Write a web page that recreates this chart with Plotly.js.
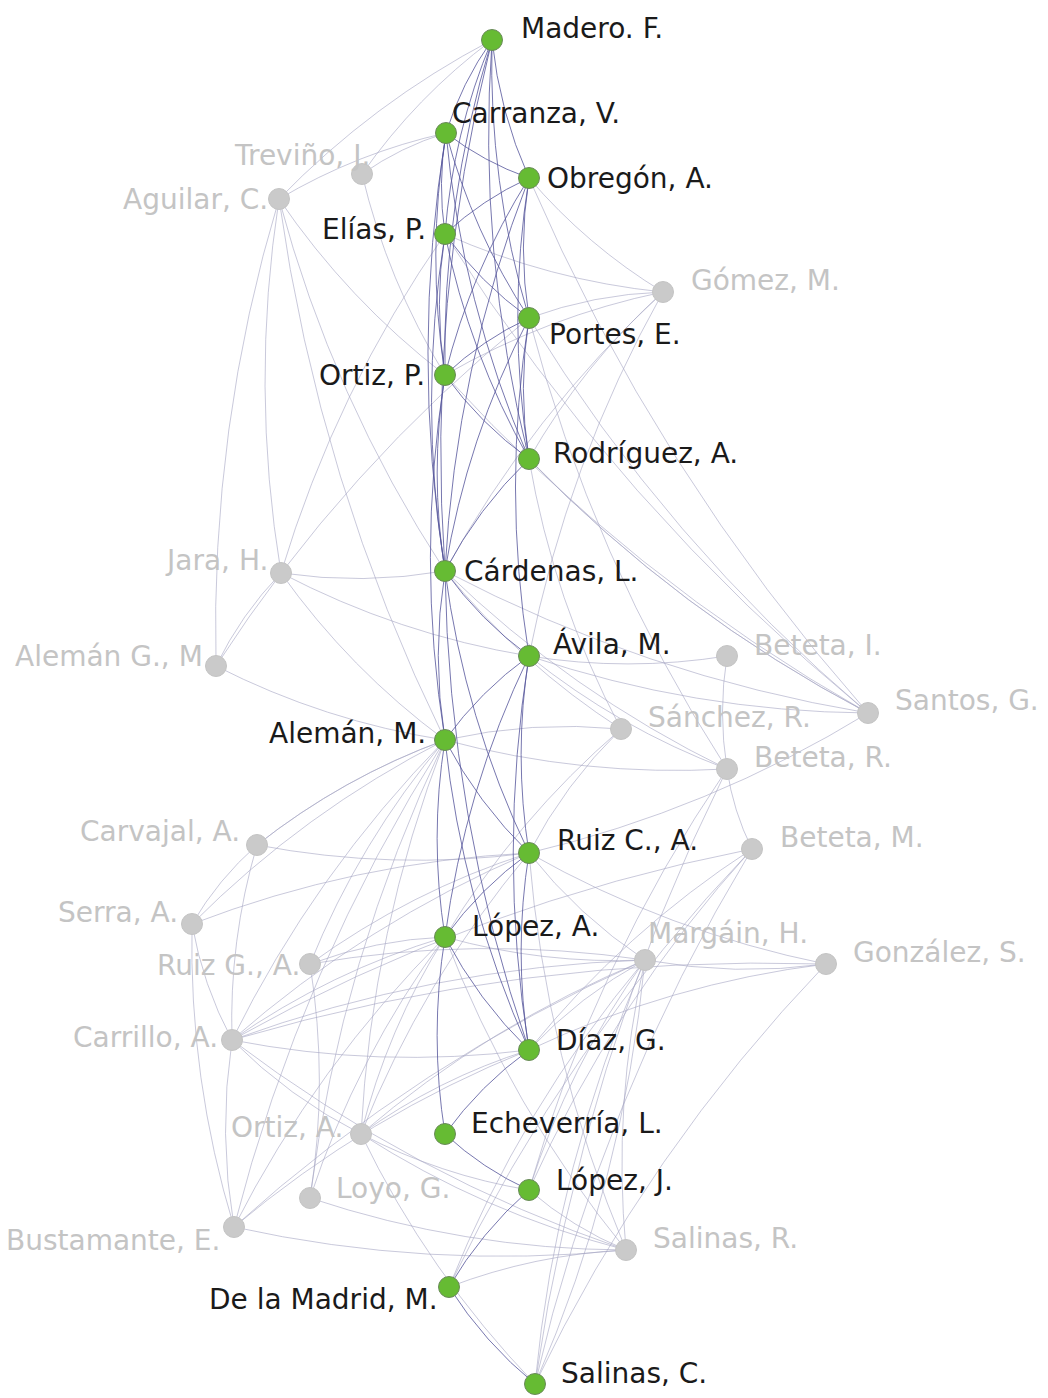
<!DOCTYPE html>
<html><head><meta charset="utf-8">
<script src="https://cdn.plot.ly/plotly-3.0.1.min.js"></script>
<style>html,body{margin:0;padding:0;background:#fff}</style>
</head><body><div id="chart" style="width:1048px;height:1398px"></div>
<script>
// ---- data ----
const names = ["Madero. F.","Carranza, V.","Treviño, J.","Aguilar, C.","Obregón, A.","Elías, P.","Gómez, M.","Portes, E.","Ortiz, P.","Rodríguez, A.",
"Jara, H.","Cárdenas, L.","Alemán G., M","Ávila, M.","Beteta, I.","Santos, G.","Sánchez, R.","Alemán, M.","Beteta, R.","Carvajal, A.",
"Ruiz C., A.","Beteta, M.","Serra, A.","López, A.","Ruiz G., A.","Margáin, H.","González, S.","Carrillo, A.","Díaz, G.","Echeverría, L.",
"Ortiz, A.","Loyo, G.","López, J.","Bustamante, E.","Salinas, R.","De la Madrid, M.","Salinas, C."];
const nodeX = [492,446,362,279,529,445,663,529,445,529, 281,445,216,529,727,868,621,445,727,257, 529,752,192,445,310,645,826,232,529,445, 361,310,529,234,626,449,535];
const nodeY = [40,133,174,199,178,234,292,318,375,459, 573,571,666,656,656,713,729,740,769,845, 853,849,924,937,964,960,964,1040,1050,1134, 1134,1198,1190,1227,1250,1287,1384];
const president = [1,1,0,0,1,1,0,1,1,1, 0,1,0,1,0,0,0,1,0,0, 1,0,0,1,0,0,0,0,1,1, 0,0,1,0,0,1,1];

const edgeFrom = [
"Madero. F.","Madero. F.","Madero. F.","Madero. F.","Madero. F.","Madero. F.","Madero. F.","Madero. F.","Madero. F.",
"Carranza, V.","Carranza, V.","Carranza, V.","Carranza, V.","Carranza, V.","Carranza, V.","Carranza, V.","Carranza, V.",
"Treviño, J.",
"Aguilar, C.","Aguilar, C.","Aguilar, C.","Aguilar, C.","Aguilar, C.",
"Obregón, A.","Obregón, A.","Obregón, A.","Obregón, A.","Obregón, A.","Obregón, A.","Obregón, A.",
"Elías, P.","Elías, P.","Elías, P.","Elías, P.","Elías, P.","Elías, P.","Elías, P.",
"Gómez, M.","Gómez, M.","Gómez, M.","Gómez, M.","Gómez, M.",
"Portes, E.","Portes, E.","Portes, E.","Portes, E.","Portes, E.","Portes, E.","Portes, E.",
"Ortiz, P.","Ortiz, P.","Ortiz, P.","Ortiz, P.",
"Rodríguez, A.","Rodríguez, A.","Rodríguez, A.","Rodríguez, A.",
"Jara, H.","Jara, H.","Jara, H.","Jara, H.",
"Cárdenas, L.","Cárdenas, L.","Cárdenas, L.","Cárdenas, L.","Cárdenas, L.","Cárdenas, L.","Cárdenas, L.",
"Alemán G., M",
"Ávila, M.","Ávila, M.","Ávila, M.","Ávila, M.","Ávila, M.","Ávila, M.","Ávila, M.",
"Beteta, I.","Beteta, R.","Beteta, R.","Beteta, R.",
"Sánchez, R.","Sánchez, R.","Sánchez, R.",
"Alemán, M.","Alemán, M.","Alemán, M.","Alemán, M.","Alemán, M.","Alemán, M.","Alemán, M.","Alemán, M.","Alemán, M.","Alemán, M.","Alemán, M.","Alemán, M.",
"Carvajal, A.","Carvajal, A.","Carvajal, A.",
"Ruiz C., A.","Ruiz C., A.","Ruiz C., A.","Ruiz C., A.","Ruiz C., A.","Ruiz C., A.","Ruiz C., A.","Ruiz C., A.","Ruiz C., A.","Ruiz C., A.",
"Beteta, M.","Beteta, M.","Beteta, M.","Beteta, M.","Beteta, M.",
"Serra, A.","Serra, A.",
"López, A.","López, A.","López, A.","López, A.","López, A.","López, A.","López, A.","López, A.","López, A.",
"Margáin, H.","Margáin, H.","Margáin, H.","Margáin, H.","Margáin, H.","Margáin, H.","Margáin, H.","Margáin, H.","Margáin, H.","Margáin, H.",
"González, S.","González, S.","González, S.",
"Carrillo, A.","Carrillo, A.","Carrillo, A.","Carrillo, A.",
"Díaz, G.","Díaz, G.","Díaz, G.",
"Echeverría, L.",
"Ortiz, A.","Ortiz, A.","Ortiz, A.",
"Loyo, G.","Loyo, G.",
"López, J.","López, J.",
"Bustamante, E.","Salinas, R.","De la Madrid, M.","Salinas, C."
];
const edgeTo = [
"Carranza, V.","Elías, P.","Ortiz, P.","Cárdenas, L.","Obregón, A.","Portes, E.","Rodríguez, A.","Aguilar, C.","Treviño, J.",
"Obregón, A.","Elías, P.","Ortiz, P.","Cárdenas, L.","Portes, E.","Rodríguez, A.","Treviño, J.","Aguilar, C.",
"Ortiz, P.",
"Alemán G., M","Jara, H.","Ortiz, P.","Cárdenas, L.","Alemán, M.",
"Elías, P.","Ortiz, P.","Cárdenas, L.","Portes, E.","Rodríguez, A.","Gómez, M.","Santos, G.",
"Ortiz, P.","Cárdenas, L.","Portes, E.","Rodríguez, A.","Gómez, M.","Santos, G.","Jara, H.",
"Portes, E.","Ortiz, P.","Cárdenas, L.","Ávila, M.","Rodríguez, A.",
"Ortiz, P.","Cárdenas, L.","Rodríguez, A.","Ávila, M.","Santos, G.","Alemán G., M","Beteta, R.",
"Cárdenas, L.","Rodríguez, A.","Santos, G.","Alemán, M.",
"Cárdenas, L.","Santos, G.","Santos, G.","Sánchez, R.",
"Cárdenas, L.","Ávila, M.","Alemán, M.","Alemán G., M",
"Ávila, M.","Alemán, M.","Ruiz C., A.","Santos, G.","Beteta, R.","Díaz, G.","Sánchez, R.",
"Alemán, M.",
"Beteta, I.","Santos, G.","Beteta, R.","Alemán, M.","Ruiz C., A.","Díaz, G.","López, A.",
"Beteta, R.","Beteta, M.","Salinas, C.","López, J.",
"Alemán, M.","Ruiz C., A.","López, A.",
"Ruiz C., A.","López, A.","Díaz, G.","Beteta, R.","Carvajal, A.","Serra, A.","Carrillo, A.","Ortiz, A.","Loyo, G.","Bustamante, E.","Carvajal, A.","Ruiz G., A.",
"Ruiz C., A.","Serra, A.","Carrillo, A.",
"Santos, G.","González, S.","Margáin, H.","López, A.","Díaz, G.","Serra, A.","Carrillo, A.","Ruiz G., A.","Ortiz, A.","Salinas, R.",
"López, J.","De la Madrid, M.","Salinas, C.","Díaz, G.","Carrillo, A.",
"Carrillo, A.","Bustamante, E.",
"Margáin, H.","Díaz, G.","Echeverría, L.","Carrillo, A.","Ortiz, A.","Bustamante, E.","Loyo, G.","Salinas, R.","Ruiz G., A.",
"González, S.","Carrillo, A.","Díaz, G.","Ortiz, A.","López, J.","De la Madrid, M.","Salinas, C.","Salinas, R.","Bustamante, E.","Ruiz G., A.",
"Salinas, C.","Díaz, G.","Carrillo, A.",
"Díaz, G.","Ortiz, A.","Salinas, R.","Bustamante, E.",
"Echeverría, L.","Ortiz, A.","Bustamante, E.",
"López, J.",
"Salinas, R.","López, J.","Salinas, C.",
"Salinas, R.","Ruiz G., A.",
"De la Madrid, M.","Salinas, R.",
"Salinas, R.","De la Madrid, M.","Salinas, C.","Margáin, H."
];

// ---- label styling (offsets in px) ----
const labelDx = [27,4,10,-9,16,-17,26,18,-18,22, -11,17,-11,22,25,25,25,-17,25,-15, 26,26,-12,25,-8,1,25,-12,25,24, -16,24,25,-12,25,-9,24];
const labelDy = [-12,-20,-19,0,0,-5,-12,16,0,-6, -13,0,-10,-12,-11,-13,-12,-7,-12,-14, -13,-12,-12,-11,1,-27,-12,-3,-10,-11, -7,-10,-10,13,-12,12,-11];
const labelAnchor = ["left","left","right","right","left","right","left","left","right","left",
"right","left","right","left","left","left","left","right","left","right",
"left","left","right","left","right","left","left","right","left","left",
"right","left","left","right","left","right","left"];

// ---- build ----
const idx = {}; names.forEach((n,i)=>idx[n]=i);
const grayShapes = [], purpleShapes = [];
for (let k=0;k<edgeFrom.length;k++){
  const a = idx[edgeFrom[k]], b = idx[edgeTo[k]];
  const x0=nodeX[a], y0=nodeY[a], x1=nodeX[b], y1=nodeY[b];
  const dx=x1-x0, dy=y1-y0;
  const mx=(x0+x1)/2, my=(y0+y1)/2;
  const bend=0.08;
  const cx = mx - dy*bend, cy = my + dx*bend;
  const both = president[a] && president[b];
  const s = {type:'path', xref:'x', yref:'y', layer:'below',
    path:`M ${x0},${y0} Q ${cx},${cy} ${x1},${y1}`,
    line:{color: both ? 'rgba(85,85,155,0.8)' : 'rgba(165,165,195,0.6)', width: 1}};
  (both?purpleShapes:grayShapes).push(s);
}
const shapes = [...grayShapes, ...purpleShapes];

const annotations = names.map((n,i)=>({
  x: nodeX[i], y: nodeY[i], xref:'x', yref:'y', text:n, showarrow:false,
  xanchor: labelAnchor[i], yanchor:'middle', xshift: labelDx[i], yshift: -labelDy[i],
  font:{family:'DejaVu Sans, Verdana, sans-serif', size:28, color: president[i] ? '#1a1a1a' : '#c4c4c4'}
}));

const nodeTrace = {
  type:'scatter', mode:'markers', x:nodeX, y:nodeY, text:names, hoverinfo:'text',
  marker:{size:21, color: president.map(p=>p?'#66bb33':'#cacaca'),
    line:{color: president.map(p=>p?'#6a8a5a':'#c4c4c4'), width:1}}
};

const layout = {
  width:1048, height:1398, margin:{l:0,r:0,t:0,b:0},
  paper_bgcolor:'#ffffff', plot_bgcolor:'#ffffff', showlegend:false,
  xaxis:{range:[0,1048], visible:false, fixedrange:true},
  yaxis:{range:[1398,0], visible:false, fixedrange:true},
  shapes, annotations
};
Plotly.newPlot('chart',[nodeTrace],layout,{displayModeBar:false, staticPlot:true});
</script></body></html>
